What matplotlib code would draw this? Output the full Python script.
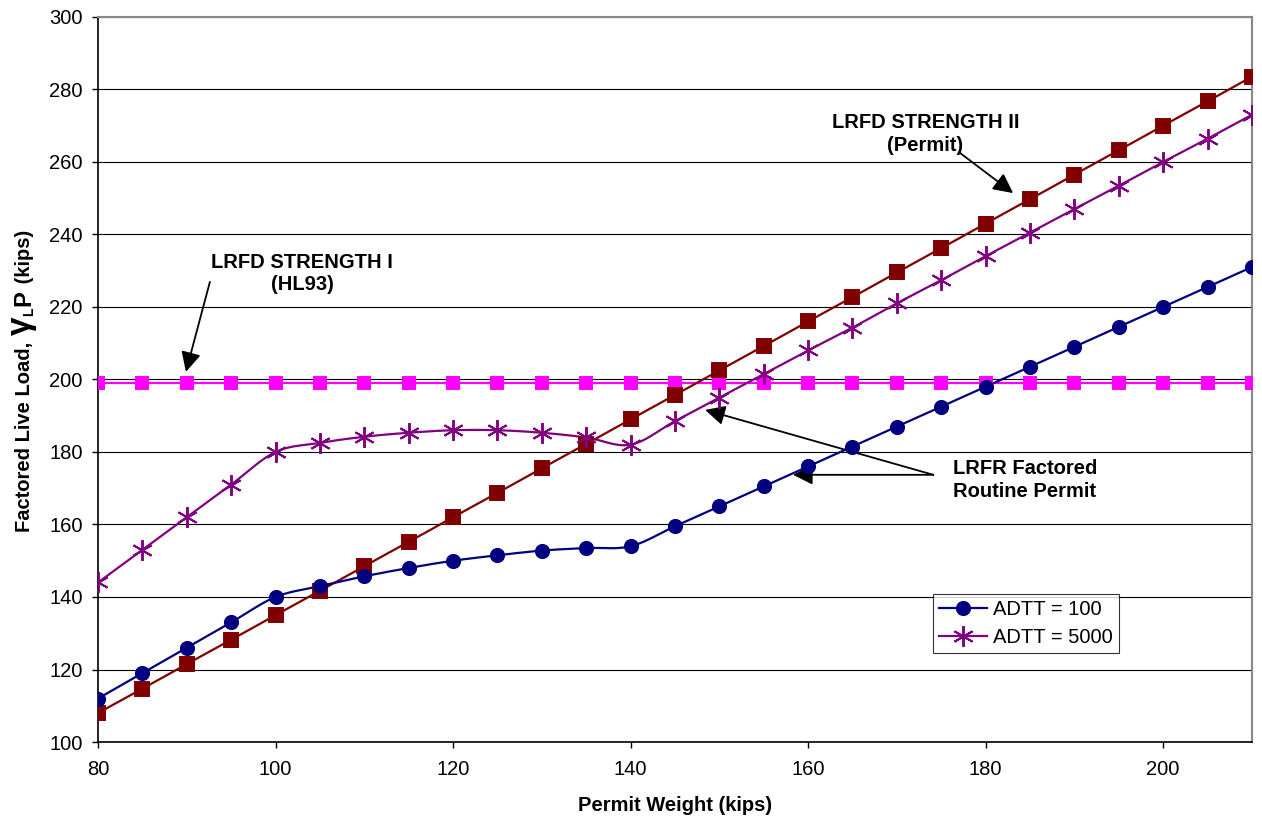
import numpy as np
import matplotlib
matplotlib.use('Agg')
import matplotlib.pyplot as plt
from matplotlib.transforms import IdentityTransform

# Data
permit_weight = np.arange(80, 211, 5)
adtt_100 = [112, 119, 126, 133, 140, 143, 145.7, 148, 150, 151.5, 152.8, 153.5, 154,
            159.5, 165, 170.5, 176, 181.5, 187, 192.5, 198, 203.5, 209, 214.5, 220, 225.5, 231]
adtt_5000 = [144, 153, 162, 171, 180, 182.5, 184.2, 185.3, 186, 186, 185.3, 184, 182,
             188.5, 195, 201.5, 208, 214.3, 221, 227.4, 234, 240.5, 247, 253.4, 260, 266.4, 273]
strength_ii = [108, 114.7, 121.5, 128.2, 135, 141.7, 148.5, 155.2, 162, 168.7, 175.5, 182.2, 189,
               195.7, 202.5, 209.2, 216, 222.7, 229.5, 236.2, 243, 249.7, 256.5, 263.2, 270, 276.7, 283.5]
strength_i = [199] * 27

plt.rcParams['font.family'] = ['Liberation Sans', 'DejaVu Sans']


def smooth(x, y, n=20):
    # Catmull-Rom curve through the points (like Excel's smoothed line)
    x = np.asarray(x, float)
    y = np.asarray(y, float)
    px = np.concatenate([[2 * x[0] - x[1]], x, [2 * x[-1] - x[-2]]])
    py = np.concatenate([[2 * y[0] - y[1]], y, [2 * y[-1] - y[-2]]])
    t = np.linspace(0, 1, n, endpoint=False)
    xs, ys = [], []
    for i in range(1, len(px) - 2):
        for p, out in ((px, xs), (py, ys)):
            p0, p1, p2, p3 = p[i - 1], p[i], p[i + 1], p[i + 2]
            out.append(0.5 * (2 * p1 + (-p0 + p2) * t + (2 * p0 - 5 * p1 + 4 * p2 - p3) * t ** 2
                              + (-p0 + 3 * p1 - 3 * p2 + p3) * t ** 3))
    xs.append([x[-1]])
    ys.append([y[-1]])
    return np.concatenate(xs), np.concatenate(ys)


fig = plt.figure(figsize=(12.62, 8.24), dpi=100)
ax = fig.add_axes([0.0777, 0.0995, 0.9143, 0.88])

series = [
    (strength_i, '#FF00FF', 's', 9, None),
    (strength_ii, '#800000', 's', 10, None),
    (adtt_100, '#000080', 'o', 9.5, 'ADTT = 100'),
    (adtt_5000, '#800080', (6, 2, 0), 15, 'ADTT = 5000'),
]
for vals, col, mk, ms, lab in series:
    sx, sy = smooth(permit_weight, vals)
    ax.plot(sx, sy, color=col, lw=1.6, zorder=3)
    ax.plot(permit_weight, vals, linestyle='none', marker=mk, color=col, ms=ms,
            mew=1.4, zorder=4)
    if lab:
        ax.plot([], [], color=col, lw=1.6, marker=mk, ms=ms, mew=1.4, label=lab)

ax.set_xlim(80, 210)
ax.set_ylim(100, 300)
ax.set_xticks(np.arange(80, 201, 20))
ax.set_yticks(np.arange(100, 301, 20))
ax.yaxis.grid(True, color='black', lw=0.8)
ax.set_axisbelow(True)
ax.tick_params(labelsize=14.5, direction='out', length=4, width=1)
ax.tick_params(axis='x', pad=9)
ax.tick_params(axis='y', pad=7)
for s in ['left', 'bottom']:
    ax.spines[s].set_color('black')
    ax.spines[s].set_linewidth(1.2)
for s in ['top', 'right']:
    ax.spines[s].set_color('#888888')
    ax.spines[s].set_linewidth(1.5)

ax.set_xlabel('Permit Weight (kips)', fontsize=14.5, fontweight='bold', labelpad=12)

# y label built from pieces so the gamma and P can be larger
renderer = fig.canvas.get_renderer()
label_parts = [
    ('Factored Live Load, ', 14.5, 0),
    ('γ', 24, 0),
    ('L', 10, 3),
    ('P', 17, 0),
    (' (kips)', 14.5, 0),
]
pos = 824 - 532
for s, size, dx in label_parts:
    t = fig.text(30 + dx, pos, s, fontsize=size, fontweight='bold', rotation=90,
                 rotation_mode='anchor', ha='left', va='baseline', transform=IdentityTransform())
    pos += t.get_window_extent(renderer).height + 1

arrow = dict(arrowstyle='-|>', color='black', lw=1.3, mutation_scale=30, shrinkA=0, shrinkB=0)
ax.text(103.0, 229.2, 'LRFD STRENGTH I\n(HL93)', ha='center', va='center', fontsize=14.5,
        fontweight='bold', linespacing=1.25)
ax.annotate('', xy=(89.9, 202.1), xytext=(92.6, 226.9), arrowprops=arrow)
ax.text(173.2, 267.7, 'LRFD STRENGTH II\n(Permit)', ha='center', va='center', fontsize=14.5,
        fontweight='bold', linespacing=1.25)
ax.annotate('', xy=(183.1, 251.4), xytext=(177.1, 262.5), arrowprops=arrow)
ax.text(176.3, 172.3, 'LRFR Factored\nRoutine Permit', ha='left', va='center', fontsize=14.5,
        fontweight='bold', linespacing=1.25)
ax.annotate('', xy=(148.4, 191.6), xytext=(174.1, 173.7), arrowprops=arrow)
ax.annotate('', xy=(158.3, 173.7), xytext=(174.1, 173.7), arrowprops=arrow)

leg = ax.legend(loc='lower left', bbox_to_anchor=(0.7236, 0.1228), fontsize=14.5,
                frameon=True, fancybox=False, borderpad=0.3, handlelength=2.4,
                handletextpad=0.3, labelspacing=0.45, borderaxespad=0)
leg.get_frame().set_edgecolor('black')
leg.get_frame().set_linewidth(0.8)

fig.savefig('out.png', dpi=100)
